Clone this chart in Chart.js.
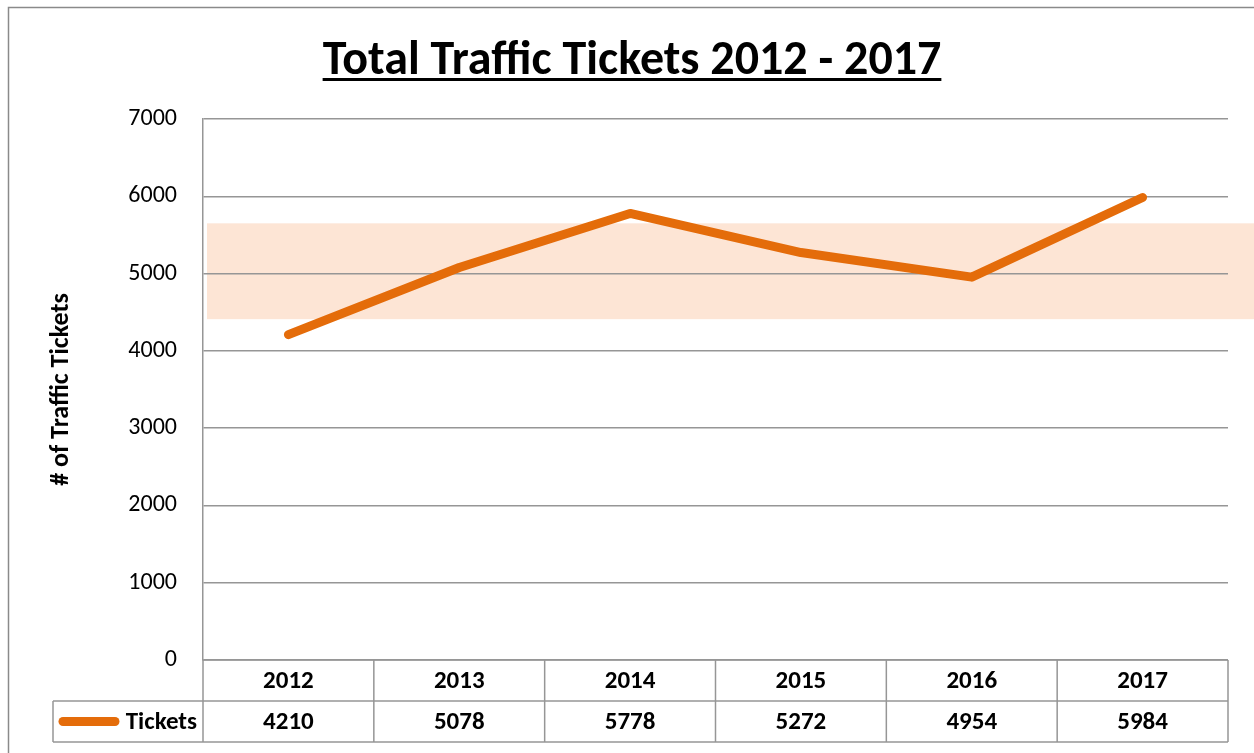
<!DOCTYPE html>
<html>
<head>
<meta charset="utf-8">
<script src="https://cdn.jsdelivr.net/npm/chart.js@4.4.0/dist/chart.umd.min.js"></script>
<style>
    html, body { margin: 0; padding: 0; background: #fff; }
    #wrap { width: 1254px; height: 753px; position: relative; }
</style>
</head>
<body>
<div id="wrap"><canvas id="myChart" width="1254" height="753"></canvas></div>
<script>
// chart data
const years = ['2012', '2013', '2014', '2015', '2016', '2017'];
const tickets = [4210, 5078, 5778, 5272, 4954, 5984];
const seriesName = 'Tickets';
const yTicks = [0, 1000, 2000, 3000, 4000, 5000, 6000, 7000];
const band = [4410, 5650];

const FONT = 'Carlito, Calibri, Lato, "Open Sans", sans-serif';
const ORANGE = '#E46C0A';
const GRID = '#969696';

// peach band behind the grid
const bandPlugin = {
    id: 'band',
    beforeDraw(chart) {
        let ctx = chart.ctx, y = chart.scales.y, area = chart.chartArea;
        let top = y.getPixelForValue(band[1]), bottom = y.getPixelForValue(band[0]);
        ctx.save();
        ctx.fillStyle = '#FDE5D5';
        ctx.fillRect(area.left + 4, top, chart.width - area.left - 4, bottom - top);
        ctx.restore();
    }
};

// title, frame and data table
const tablePlugin = {
    id: 'dataTable',
    afterDraw(chart) {
        let ctx = chart.ctx, x = chart.scales.x, area = chart.chartArea;
        ctx.save();

        // outer frame
        ctx.strokeStyle = '#8a8a8a';
        ctx.lineWidth = 1.5;
        ctx.beginPath();
        ctx.moveTo(8.5, chart.height);
        ctx.lineTo(8.5, 7.5);
        ctx.lineTo(chart.width, 7.5);
        ctx.stroke();

        // title with underline
        let title = 'Total Traffic Tickets 2012 - 2017';
        ctx.font = 'bold 48px ' + FONT;
        ctx.fillStyle = '#000';
        ctx.textAlign = 'center';
        ctx.textBaseline = 'alphabetic';
        let tw = ctx.measureText(title).width;
        ctx.fillText(title, 632, 74);
        ctx.fillRect(632 - tw / 2, 78, tw, 3);

        // table grid
        let step = (area.right - area.left) / years.length;
        let r0 = area.bottom, r1 = area.bottom + 41, r2 = area.bottom + 82;
        let legLeft = 53;
        ctx.strokeStyle = GRID;
        ctx.lineWidth = 1.5;
        ctx.beginPath();
        ctx.moveTo(area.left, r0); ctx.lineTo(area.right, r0);
        ctx.moveTo(legLeft, r1); ctx.lineTo(area.right, r1);
        ctx.moveTo(legLeft, r2); ctx.lineTo(area.right, r2);
        ctx.moveTo(legLeft, r1); ctx.lineTo(legLeft, r2);
        for (let i = 0; i <= years.length; i++) {
            let px = area.left + i * step;
            ctx.moveTo(px, r0); ctx.lineTo(px, r2);
        }
        ctx.stroke();

        // cell text
        ctx.font = 'bold 25px ' + FONT;
        ctx.textBaseline = 'middle';
        ctx.textAlign = 'center';
        for (let i = 0; i < years.length; i++) {
            let px = x.getPixelForValue(i);
            ctx.fillText(years[i], px, (r0 + r1) / 2 + 1);
            ctx.fillText(String(tickets[i]), px, (r1 + r2) / 2 + 1);
        }

        // legend key
        ctx.strokeStyle = ORANGE;
        ctx.lineWidth = 9;
        ctx.lineCap = 'round';
        ctx.beginPath();
        ctx.moveTo(63, (r1 + r2) / 2);
        ctx.lineTo(115, (r1 + r2) / 2);
        ctx.stroke();
        ctx.textAlign = 'right';
        ctx.fillText(seriesName, 197, (r1 + r2) / 2 + 1);
        ctx.restore();
    }
};

var ctx = document.getElementById('myChart').getContext('2d');
var myChart = new Chart(ctx, {
    type: 'line',
    data: {
        labels: years,
        datasets: [{
            label: seriesName,
            data: tickets,
            borderColor: ORANGE,
            backgroundColor: ORANGE,
            borderWidth: 9,
            borderCapStyle: 'round',
            borderJoinStyle: 'round',
            pointRadius: 0,
            tension: 0
        }]
    },
    options: {
        responsive: false,
        animation: false,
        layout: { padding: { left: 0, top: 119, right: 26, bottom: 93 } },
        plugins: {
            legend: { display: false },
            title: { display: false },
            tooltip: { enabled: false }
        },
        scales: {
            x: {
                display: false,
                offset: true
            },
            y: {
                min: 0,
                max: 7000,
                afterBuildTicks(scale) {
                    scale.ticks = yTicks.map(v => ({ value: v }));
                },
                afterFit(scale) {
                    scale.width = 203;
                },
                grid: { color: GRID, lineWidth: 1.5, drawTicks: false },
                border: { color: GRID, width: 1.5 },
                ticks: {
                    padding: 26,
                    color: '#000',
                    font: { family: FONT, size: 24 },
                    callback: v => String(v)
                },
                title: {
                    display: true,
                    text: '# of Traffic Tickets',
                    color: '#000',
                    font: { family: FONT, size: 26, weight: 'bold' },
                    padding: { top: 46, bottom: 0 }
                }
            }
        }
    },
    plugins: [bandPlugin, tablePlugin]
});
</script>
</body>
</html>
